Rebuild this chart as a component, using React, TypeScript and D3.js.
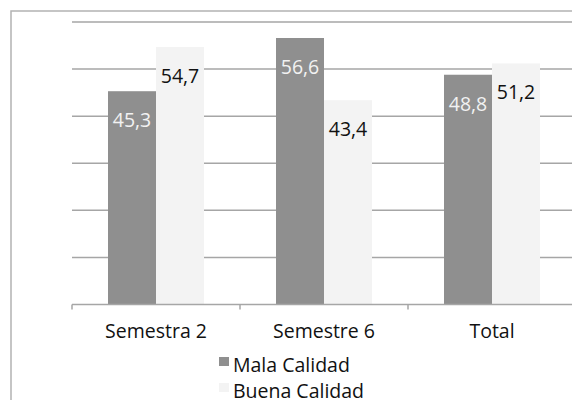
import React from 'react';
import * as d3 from 'd3';

const categories = ['Semestra 2', 'Semestre 6', 'Total'];
const series = ['Mala Calidad', 'Buena Calidad'];
const malaValues = [45.3, 56.6, 48.8];
const buenaValues = [54.7, 43.4, 51.2];
const yTicks = [0, 10, 20, 30, 40, 50, 60];

const W = 572;
const H = 400;
const margin = { top: 22, right: -4, bottom: 95.5, left: 72 };
const colors = ['#8f8f8f', '#f3f3f3'];
const labelColors = ['#f2f2f2', '#111111'];
const font = "'Open Sans', 'Noto Sans', sans-serif";

const App = () => {
  const plotBottom = H - margin.bottom;
  const x0 = d3.scaleBand<string>().domain(categories).range([margin.left, W - margin.right]).padding(0);
  const x1 = d3.scaleBand<string>().domain(series).range([0, x0.bandwidth()]).paddingInner(0).paddingOuter(0.75);
  const y = d3.scaleLinear().domain([0, 60]).range([plotBottom, margin.top]);

  const rows = categories.map((c, i) => ({ cat: c, values: [malaValues[i], buenaValues[i]] }));
  const fmt = (v: number) => v.toFixed(1).replace('.', ',');

  return (
    <svg width={W} height={H} style={{ position: 'absolute', left: 0, top: 0, background: '#fff' }}>
      <rect x={11} y={11} width={W + 20} height={H + 20} fill="#fff" stroke="#b3b3b3" strokeWidth={1.5} />
      {yTicks.slice(1).map(t => (
        <line key={t} x1={margin.left} x2={W} y1={y(t)} y2={y(t)} stroke="#a6a6a6" strokeWidth={1.5} />
      ))}
      {rows.map(r => (
        <g key={r.cat} transform={`translate(${x0(r.cat)},0)`}>
          {r.values.map((v, j) => (
            <g key={j}>
              <rect x={x1(series[j])} y={y(v)} width={x1.bandwidth()} height={plotBottom - y(v)} fill={colors[j]} />
              <text
                x={(x1(series[j]) ?? 0) + x1.bandwidth() / 2}
                y={y(v) + 29}
                dy="0.35em"
                textAnchor="middle"
                fontFamily={font}
                fontSize={19.5}
                fill={labelColors[j]}
              >
                {fmt(v)}
              </text>
            </g>
          ))}
        </g>
      ))}
      <line x1={margin.left} x2={W} y1={plotBottom} y2={plotBottom} stroke="#a6a6a6" strokeWidth={1.5} />
      {categories.map((c, i) => (
        <line key={'t' + i} x1={x0(c)} x2={x0(c)} y1={plotBottom} y2={plotBottom + 5} stroke="#a6a6a6" strokeWidth={1.5} />
      ))}
      {categories.map(c => (
        <text key={'l' + c} x={(x0(c) ?? 0) + x0.bandwidth() / 2} y={338} textAnchor="middle" fontFamily={font} fontSize={19.5} fill="#111">
          {c}
        </text>
      ))}
      {series.map((s, j) => (
        <g key={s} transform={`translate(219,${357 + j * 26})`}>
          <rect x={0} y={0} width={10} height={9} fill={colors[j]} />
          <text x={14} y={15} fontFamily={font} fontSize={19.5} fill="#111">{s}</text>
        </g>
      ))}
    </svg>
  );
};

export default App;
